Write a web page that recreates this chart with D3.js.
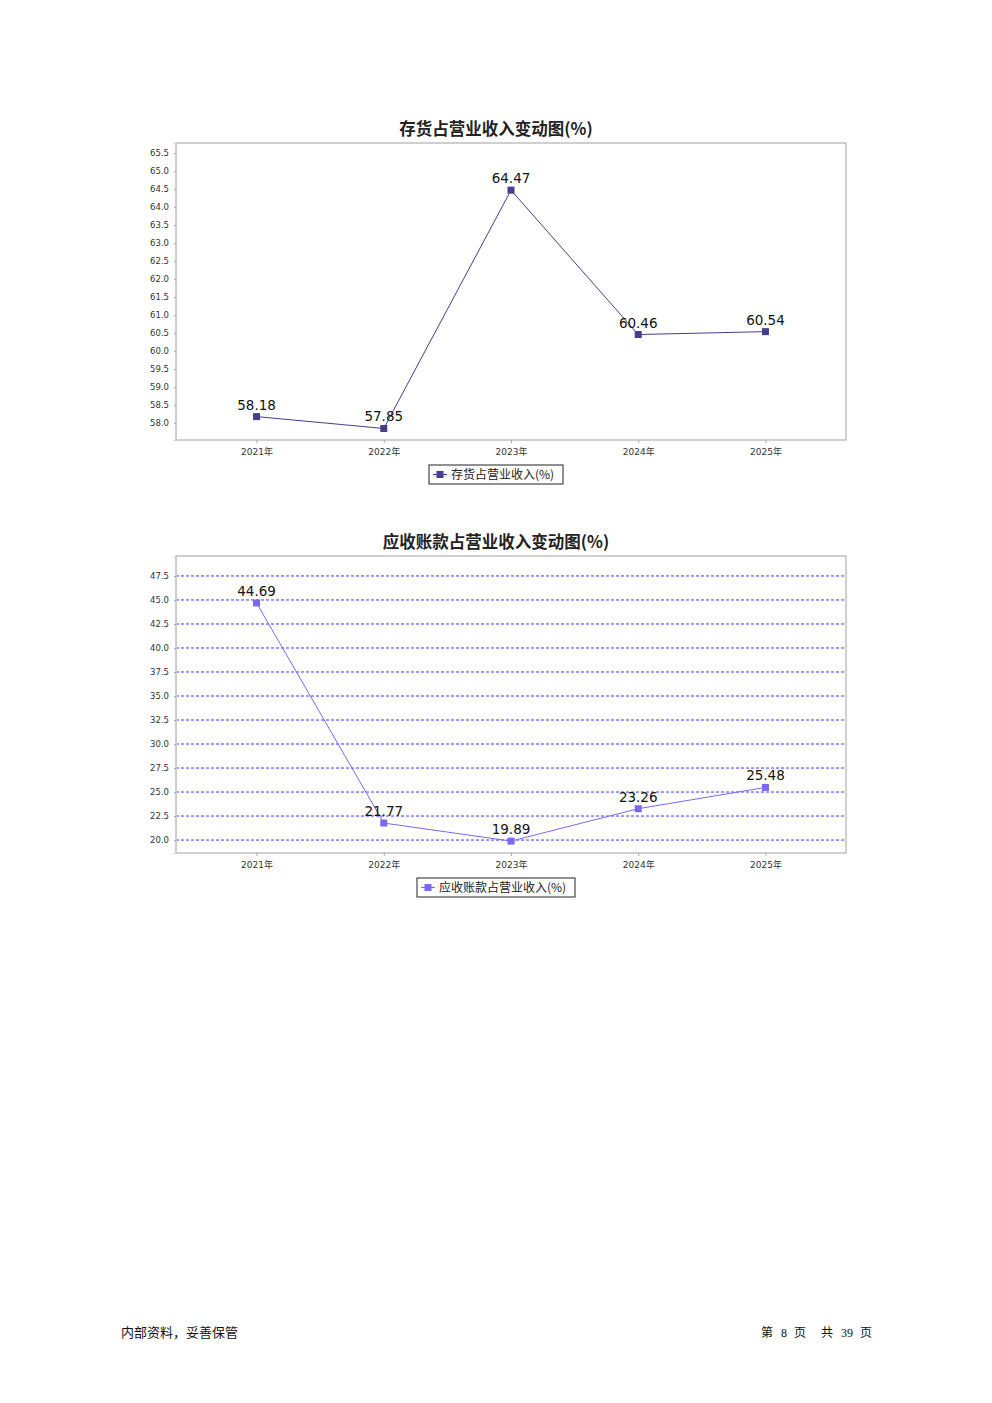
<!DOCTYPE html>
<html><head><meta charset="utf-8">
<script src="https://cdn.jsdelivr.net/npm/d3@7"></script>
<style>body{margin:0;background:#fff;} svg{display:block;}</style>
</head><body>
<svg id="c" width="992" height="1403"></svg>
<script>
const years = ["2021年","2022年","2023年","2024年","2025年"];
const inventoryRatio = [58.18, 57.85, 64.47, 60.46, 60.54];
const receivableRatio = [44.69, 21.77, 19.89, 23.26, 25.48];
const ticks1 = [58.0,58.5,59.0,59.5,60.0,60.5,61.0,61.5,62.0,62.5,63.0,63.5,64.0,64.5,65.0,65.5];
const ticks2 = [20.0,22.5,25.0,27.5,30.0,32.5,35.0,37.5,40.0,42.5,45.0,47.5];
const title1 = "存货占营业收入变动图(%)";
const title2 = "应收账款占营业收入变动图(%)";
const legend1 = "存货占营业收入(%)";
const legend2 = "应收账款占营业收入(%)";

const svg = d3.select("#c");
const font = "'DejaVu Sans', 'Noto Sans CJK SC', sans-serif";
const cx = 496;

function chart(o){
  const g = svg.append("g");
  const x = d3.scalePoint().domain(years).range([o.left,o.right]).padding(0.633);
  const y = d3.scaleLinear().domain(o.domain).range([o.bottom,o.top]);
  g.append("text").attr("x",cx).attr("y",o.top-8).attr("text-anchor","middle")
    .attr("font-family","'Noto Sans CJK SC', sans-serif").attr("font-weight","bold").attr("font-size",16.5)
    .attr("fill","#222").text(o.title);
  if(o.grid){
    g.selectAll(".gl").data(o.ticks).join("line")
      .attr("x1",o.left).attr("x2",o.right).attr("y1",d=>y(d)).attr("y2",d=>y(d))
      .attr("stroke","#2020ff").attr("stroke-width",0.9).attr("stroke-dasharray","3,2");
  }
  g.append("rect").attr("x",o.left).attr("y",o.top).attr("width",o.right-o.left).attr("height",o.bottom-o.top)
    .attr("fill","none").attr("stroke","#a0a0a0").attr("stroke-width",1);
  const ya = d3.axisLeft(y).tickValues(o.ticks).tickFormat(d3.format(".1f")).tickSize(2).tickPadding(5);
  const yg = g.append("g").attr("transform",`translate(${o.left},0)`).call(ya);
  yg.select(".domain").attr("stroke","#ccc");
  yg.selectAll(".tick line").attr("stroke","#aaa");
  yg.selectAll("text").attr("font-family",font).attr("font-size",8.5).attr("fill","#333");
  const xa = d3.axisBottom(x).tickSize(3).tickPadding(6);
  const xg = g.append("g").attr("transform",`translate(0,${o.bottom})`).call(xa);
  xg.select(".domain").remove();
  xg.selectAll(".tick line").attr("stroke","#aaa");
  xg.selectAll("text").attr("font-family",font).attr("font-size",9).attr("fill","#333");
  const line = d3.line().x((d,i)=>x(years[i])).y(d=>y(d));
  g.append("path").datum(o.values).attr("d",line).attr("fill","none").attr("stroke",o.color).attr("stroke-width",1);
  g.selectAll(".pt").data(o.values).join("rect")
    .attr("x",(d,i)=>x(years[i])-3.5).attr("y",d=>y(d)-3.5).attr("width",7).attr("height",7).attr("fill",o.color);
  g.selectAll(".lb").data(o.values).join("text")
    .attr("x",(d,i)=>x(years[i])).attr("y",d=>y(d)-7).attr("text-anchor","middle")
    .attr("font-family",font).attr("font-size",13.5).attr("fill","#111").text(d=>d.toFixed(2));
  // legend
  const lw = o.legendW, lx = cx - lw/2, ly = o.bottom+25;
  g.append("rect").attr("x",lx).attr("y",ly).attr("width",lw).attr("height",19).attr("fill","#fff").attr("stroke","#222");
  g.append("line").attr("x1",lx+4).attr("x2",lx+18).attr("y1",ly+9.5).attr("y2",ly+9.5).attr("stroke",o.color).attr("stroke-width",1.2);
  g.append("rect").attr("x",lx+7.5).attr("y",ly+6).attr("width",7).attr("height",7).attr("fill",o.color);
  g.append("text").attr("x",lx+22).attr("y",ly+14).attr("font-family","'Noto Sans CJK SC', sans-serif")
    .attr("font-size",12).attr("fill","#222").text(o.legend);
}

chart({left:176,right:846,top:143,bottom:440,domain:[57.53,65.78],ticks:ticks1,values:inventoryRatio,
  color:"#483d8b",title:title1,legend:legend1,grid:false,legendW:134});
chart({left:176,right:846,top:556,bottom:853,domain:[18.65,49.58],ticks:ticks2,values:receivableRatio,
  color:"#7b68ee",title:title2,legend:legend2,grid:true,legendW:158});

svg.append("text").attr("x",121).attr("y",1337).attr("font-family","'Noto Sans CJK SC', sans-serif")
  .attr("font-size",13).attr("fill","#111").text("内部资料，妥善保管");
const footerParts = [["第",761],["8",781],["页",794],["共",821],["39",841],["页",860]];
svg.selectAll(".ft").data(footerParts).join("text").attr("x",d=>d[1]).attr("y",1337)
  .attr("font-family",d=>/\d/.test(d[0])?"'Liberation Serif', serif":"'Noto Sans CJK SC', sans-serif")
  .attr("font-size",12).attr("fill","#111").text(d=>d[0]);
</script>
</body></html>
